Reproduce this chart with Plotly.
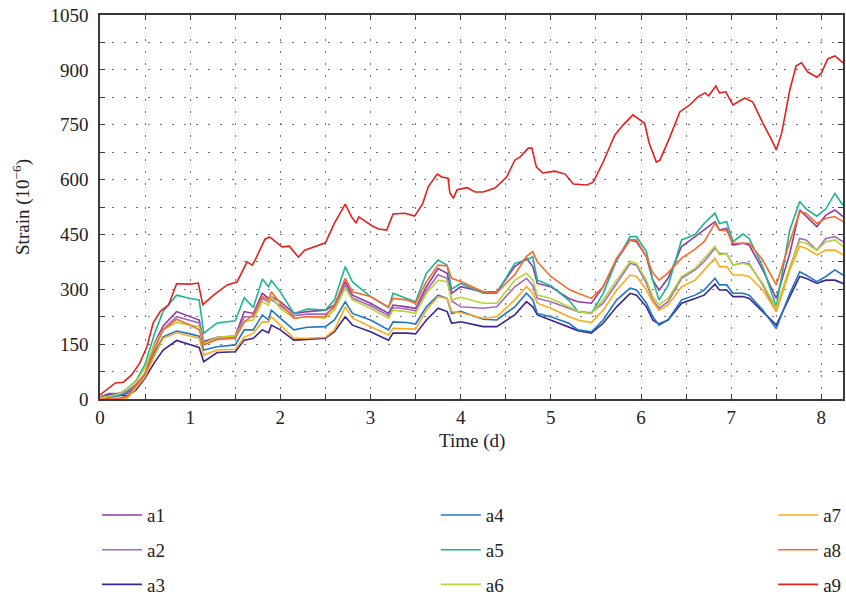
import plotly.graph_objects as go

# ---- data ----
t = [0, 0.1, 0.2, 0.3, 0.4, 0.5, 0.6, 0.7, 0.85, 1.0,
     1.1, 1.15, 1.3, 1.5, 1.6, 1.7, 1.8, 1.87, 1.9, 2.0,
     2.15, 2.3, 2.5, 2.6, 2.72, 2.8, 3.0, 3.2, 3.25, 3.4,
     3.5, 3.62, 3.75, 3.85, 3.9, 4.0, 4.25, 4.4, 4.6, 4.73,
     4.8, 4.85, 5.0, 5.2, 5.3, 5.45, 5.58, 5.73, 5.88, 5.95,
     6.06, 6.13, 6.2, 6.3, 6.45, 6.6, 6.7, 6.82, 6.87, 6.95,
     7.02, 7.13, 7.2, 7.35, 7.5, 7.65, 7.76, 7.83, 7.95, 8.05,
     8.15, 8.24]

a1 = [5, 15, 15, 20, 40, 68, 150, 200, 239, 225,
      216, 157, 169, 172, 239, 234, 289, 275, 280, 266,
      234, 239, 243, 257, 321, 284, 262, 234, 257, 252,
      248, 307, 357, 344, 289, 307, 293, 293, 362, 385,
      362, 316, 307, 275, 266, 262, 307, 380, 435, 430,
      389, 325, 298, 330, 417, 444, 462, 485, 462, 467,
      421, 426, 421, 353, 275, 398, 517, 499, 471, 503,
      517, 499]

a2 = [4, 12, 14, 20, 38, 66, 140, 190, 225, 216,
      208, 152, 166, 169, 225, 225, 275, 265, 272, 255,
      228, 232, 232, 250, 312, 276, 255, 228, 250, 246,
      241, 296, 340, 330, 268, 252, 248, 252, 307, 330,
      310, 275, 266, 248, 239, 236, 262, 316, 371, 366,
      316, 271, 248, 266, 330, 353, 376, 412, 398, 398,
      366, 373, 369, 312, 239, 357, 439, 435, 407, 439,
      444, 430]

a3 = [3, 10, 11, 8, 25, 57, 98, 134, 160, 148,
      141, 102, 127, 129, 161, 166, 189, 181, 202, 189,
      161, 163, 166, 184, 225, 202, 184, 161, 180, 180,
      178, 216, 248, 239, 207, 211, 198, 198, 230, 266,
      252, 230, 216, 198, 187, 180, 207, 252, 289, 284,
      252, 216, 205, 216, 262, 275, 284, 314, 298, 298,
      280, 280, 275, 239, 202, 280, 335, 330, 316, 325,
      325, 316]

a4 = [2, 5, 8, 15, 35, 70, 125, 170, 186, 178,
      172, 134, 143, 148, 189, 189, 230, 216, 243, 221,
      189, 196, 198, 216, 266, 234, 216, 189, 211, 209,
      205, 252, 284, 275, 234, 240, 218, 216, 252, 289,
      271, 234, 225, 207, 189, 184, 216, 271, 303, 298,
      262, 225, 202, 216, 271, 284, 298, 330, 312, 312,
      289, 289, 284, 243, 193, 289, 348, 339, 321, 335,
      353, 339]

a5 = [3, 8, 12, 28, 50, 95, 175, 240, 284, 275,
      271, 180, 208, 214, 277, 250, 328, 307, 324, 293,
      234, 246, 243, 271, 362, 320, 280, 250, 289, 275,
      266, 344, 380, 366, 300, 316, 289, 289, 371, 380,
      389, 325, 310, 270, 239, 234, 289, 380, 444, 444,
      403, 325, 271, 310, 435, 450, 480, 508, 480, 485,
      430, 451, 439, 362, 252, 462, 540, 520, 500, 520,
      562, 530]

a6 = [3, 8, 12, 28, 48, 85, 148, 189, 209, 202,
      198, 152, 169, 172, 211, 216, 266, 257, 280, 248,
      221, 225, 221, 243, 303, 271, 248, 221, 243, 239,
      234, 289, 325, 321, 271, 278, 262, 262, 325, 344,
      325, 284, 275, 252, 239, 234, 271, 325, 376, 371,
      325, 280, 257, 275, 335, 357, 385, 417, 394, 398,
      366, 371, 366, 316, 248, 362, 430, 426, 407, 430,
      435, 417]

a7 = [0, 0, 0, 2, 30, 61, 116, 166, 181, 172,
      166, 120, 134, 136, 169, 180, 211, 211, 225, 202,
      166, 166, 169, 189, 252, 221, 198, 175, 193, 193,
      191, 243, 280, 275, 239, 236, 221, 225, 271, 307,
      289, 262, 248, 225, 216, 209, 243, 298, 339, 335,
      298, 266, 243, 257, 307, 325, 353, 385, 362, 362,
      339, 339, 335, 298, 239, 353, 417, 412, 394, 407,
      407, 394]

a8 = [0, 1, 2, 6, 38, 70, 134, 189, 218, 202,
      189, 148, 163, 166, 211, 230, 280, 271, 293, 262,
      221, 225, 225, 257, 330, 293, 280, 252, 275, 271,
      262, 321, 366, 364, 330, 321, 293, 291, 340, 390,
      403, 375, 335, 300, 289, 275, 307, 385, 435, 435,
      389, 345, 325, 345, 385, 410, 430, 480, 462, 460,
      426, 426, 426, 380, 312, 430, 512, 508, 480, 494,
      499, 485]

t9 = [0, 0.11, 0.17, 0.26, 0.35, 0.44, 0.52, 0.59, 0.67, 0.76,
      0.85, 1.0, 1.09, 1.14, 1.26, 1.41, 1.52, 1.63, 1.69, 1.72,
      1.83, 1.88, 2.02, 2.1, 2.2, 2.27, 2.38, 2.5, 2.6, 2.72,
      2.79, 2.84, 2.87, 2.96, 3.02, 3.09, 3.18, 3.25, 3.38, 3.49,
      3.58, 3.64, 3.74, 3.79, 3.86, 3.88, 3.92, 3.96, 4.07, 4.16,
      4.25, 4.38, 4.51, 4.6, 4.66, 4.75, 4.79, 4.84, 4.91, 5.04,
      5.16, 5.25, 5.4, 5.47, 5.58, 5.71, 5.8, 5.91, 5.99, 6.04,
      6.09, 6.17, 6.21, 6.32, 6.43, 6.54, 6.63, 6.71, 6.75, 6.83,
      6.87, 6.94, 7.02, 7.15, 7.24, 7.35, 7.45, 7.5, 7.56, 7.65,
      7.72, 7.78, 7.85, 7.95, 8.0, 8.07, 8.15, 8.24]

a9 = [11, 33, 44, 46, 66, 98, 142, 208, 240, 257,
      315, 314, 317, 258, 284, 312, 320, 375, 366, 380,
      437, 443, 416, 418, 388, 407, 416, 427, 481, 533,
      498, 481, 498, 484, 473, 465, 462, 506, 508, 500,
      535, 580, 615, 607, 604, 563, 550, 572, 578, 566,
      566, 577, 607, 653, 662, 686, 686, 634, 618, 623,
      615, 588, 585, 593, 648, 722, 749, 777, 763, 754,
      700, 648, 653, 716, 785, 804, 826, 837, 829, 856,
      837, 840, 804, 823, 812, 755, 708, 681, 727, 845,
      911, 919, 894, 880, 891, 930, 938, 919]

names = ["a1", "a2", "a3", "a4", "a5", "a6", "a7", "a8", "a9"]
colors = ["#8E3BA6", "#A368C2", "#3A2496", "#1F77C4", "#1BB394",
          "#B8D432", "#FFAA1D", "#FA6A2C", "#E3211C"]
series = [a1, a2, a3, a4, a5, a6, a7, a8, a9]
times = [t, t, t, t, t, t, t, t, t9]
legends = ["legend", "legend", "legend", "legend2", "legend2", "legend2",
           "legend3", "legend3", "legend3"]

FONT = "Liberation Serif"

fig = go.Figure()
for nm, c, y, x, lg in zip(names, colors, series, times, legends):
    fig.add_trace(go.Scatter(x=x, y=y, mode="lines", name=nm,
                             line=dict(color=c, width=1.6),
                             legend=lg, legendgroup=nm))

axis_common = dict(
    showline=True, linecolor="#3a3a3a", linewidth=1.6, mirror="allticks",
    ticks="inside", ticklen=5, tickcolor="#3a3a3a", tickwidth=1.2,
    showgrid=True, gridcolor="#777777", gridwidth=1.3, griddash="1.5px,10.5px",
    zeroline=False,
    tickfont=dict(family=FONT, size=19, color="#222"),
)

fig.update_xaxes(range=[0, 8.24], dtick=1, tick0=0,
                 minor=dict(dtick=0.5, ticks="inside", ticklen=5, tickcolor="#3a3a3a",
                            showgrid=True, gridcolor="#777777", gridwidth=1.3,
                            griddash="1.5px,10.5px"),
                 ticklabelstandoff=0,
                 **axis_common)
fig.update_yaxes(range=[0, 1050], dtick=150, tick0=0,
                 minor=dict(dtick=75, ticks="inside", ticklen=5, tickcolor="#3a3a3a",
                            showgrid=True, gridcolor="#777777", gridwidth=1.3,
                            griddash="1.5px,10.5px"),
                 title=dict(text="Strain (10<sup>−6</sup>)",
                            font=dict(family=FONT, size=19, color="#222"), standoff=16),
                 ticklabelstandoff=6,
                 **axis_common)

# x-axis title placed as text just below the tick labels
fig.add_annotation(text="Time (d)", xref="paper", yref="paper", x=0.5, y=-0.11,
                   xanchor="center", yanchor="middle", showarrow=False,
                   font=dict(family=FONT, size=19, color="#222"))

leg_common = dict(orientation="v", yanchor="top", y=-0.253, xanchor="left",
                  font=dict(family=FONT, size=19, color="#222"),
                  tracegroupgap=7, bgcolor="rgba(0,0,0,0)", itemwidth=40)

fig.update_layout(
    width=846, height=601,
    margin=dict(l=100, r=3, t=15, b=202, autoexpand=False),
    plot_bgcolor="white", paper_bgcolor="white",
    showlegend=True,
    legend=dict(x=-0.004, **leg_common),
    legend2=dict(x=0.452, **leg_common),
    legend3=dict(x=0.906, **leg_common),
)

fig.write_html("out.html")
